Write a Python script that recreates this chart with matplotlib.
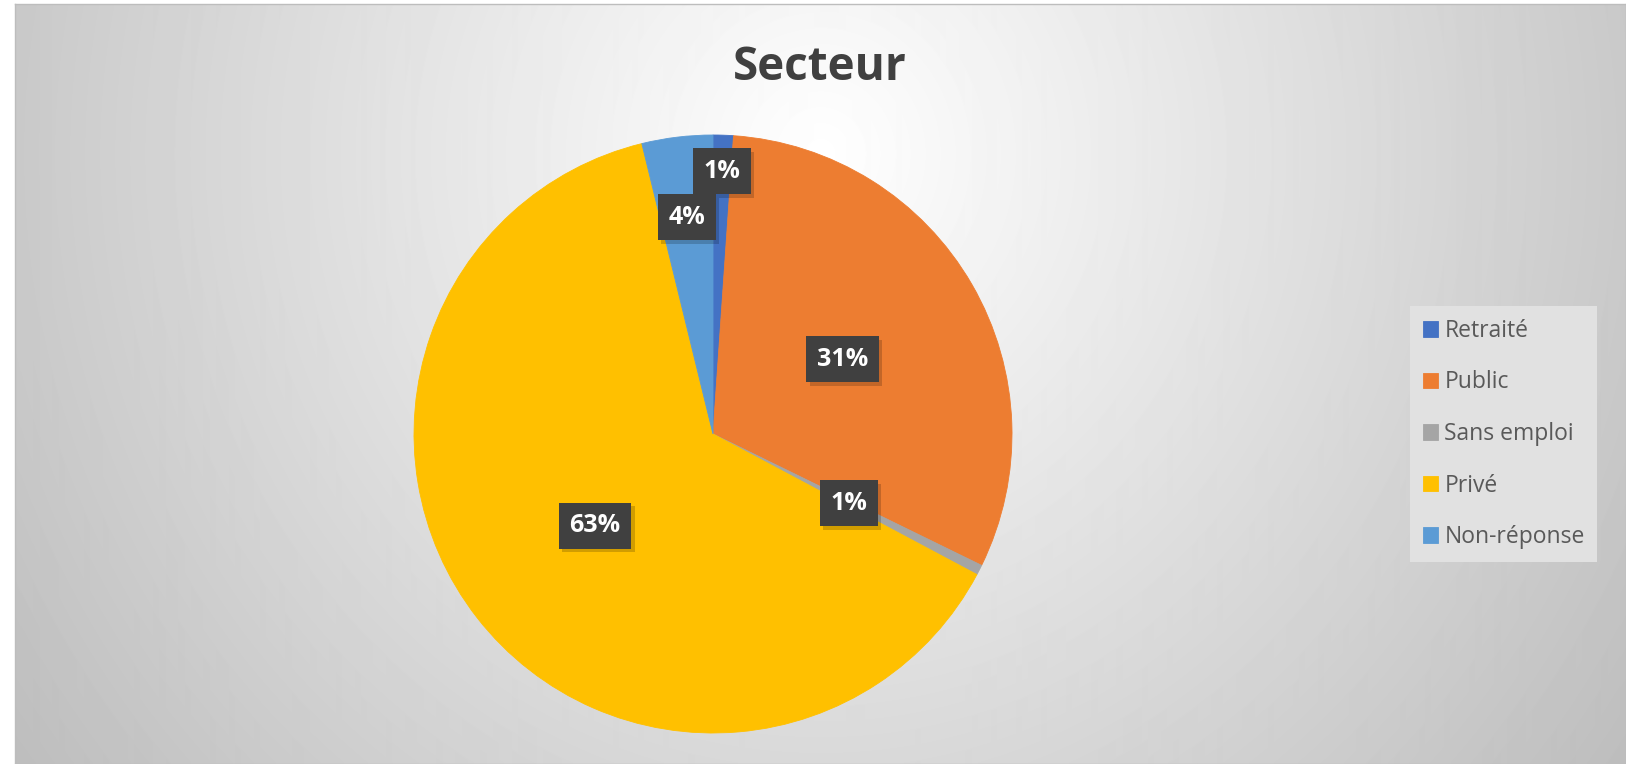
import numpy as np
import matplotlib
matplotlib.use("Agg")
import matplotlib.pyplot as plt
import matplotlib.patheffects as pe

plt.rcParams['font.family'] = ['Open Sans', 'DejaVu Sans']

# survey answers per sector
categories = ['Retraité', 'Public', 'Sans emploi', 'Privé', 'Non-réponse']
counts = [2, 57, 1, 116, 7]
colors = ['#4472C4', '#ED7D31', '#A5A5A5', '#FFC000', '#5B9BD5']
label_dist = [0.88, 0.5, 0.51, 0.5, 0.73]

W, H = 1626, 764
fig = plt.figure(figsize=(W / 100, H / 100), dpi=100)
fig.patch.set_facecolor('white')

# chart area with a soft radial fill
left = 15
bg = fig.add_axes([left / W, 0, (W - left) / W, 760 / H])
yy, xx = np.mgrid[0:760, 0:W - left]
d = np.sqrt(((xx + left - 820) / 1000.0) ** 2 + ((yy - 150) / 1050.0) ** 2)
shade = np.clip(1 - 0.26 * d, 0.74, 1.0)
bg.imshow(shade, cmap='gray', vmin=0, vmax=1, aspect='auto',
          extent=[0, 1, 0, 1], origin='upper', interpolation='bilinear')
bg.set_xticks([])
bg.set_yticks([])
for s in bg.spines.values():
    s.set_color('#bdbdbd')
    s.set_linewidth(1)

# pie
cx, cy, r = 713, H - 434, 299
ax = fig.add_axes([(cx - r) / W, (cy - r) / H, 2 * r / W, 2 * r / H])
wedges, _ = ax.pie(counts, colors=colors, startangle=90, counterclock=False,
                   radius=1, wedgeprops=dict(linewidth=0.6))
for w, c in zip(wedges, colors):
    w.set_edgecolor(c)
ax.set_xlim(-1, 1)
ax.set_ylim(-1, 1)
ax.axis('off')

total = sum(counts)
for w, n, dist in zip(wedges, counts, label_dist):
    ang = np.deg2rad((w.theta1 + w.theta2) / 2)
    x, y = dist * np.cos(ang), dist * np.sin(ang)
    t = ax.text(x, y, f"{round(100 * n / total)}%", ha='center', va='center',
                fontsize=18, fontweight='bold', color='white',
                bbox=dict(boxstyle='square,pad=0.42', facecolor='#404040',
                          edgecolor='none'))
    t.get_bbox_patch().set_path_effects([
        pe.SimplePatchShadow(offset=(2.5, -2.5), shadow_rgbFace='black', alpha=0.18),
        pe.Normal()])

fig.text(820 / W, 1 - 68 / H, 'Secteur', ha='center', va='center',
         fontsize=33, fontweight='bold', color='#404040')

leg = fig.legend(wedges, categories, loc='center left',
                 bbox_to_anchor=(1410 / W, 330 / H), frameon=True,
                 fancybox=False, framealpha=1, facecolor='#e1e1e1',
                 edgecolor='none', fontsize=16.5, labelcolor='#595959',
                 handlelength=0.65, handleheight=0.65, handletextpad=0.3,
                 labelspacing=1.2, borderpad=0.55, borderaxespad=0)

fig.savefig('out.png', dpi=100)
